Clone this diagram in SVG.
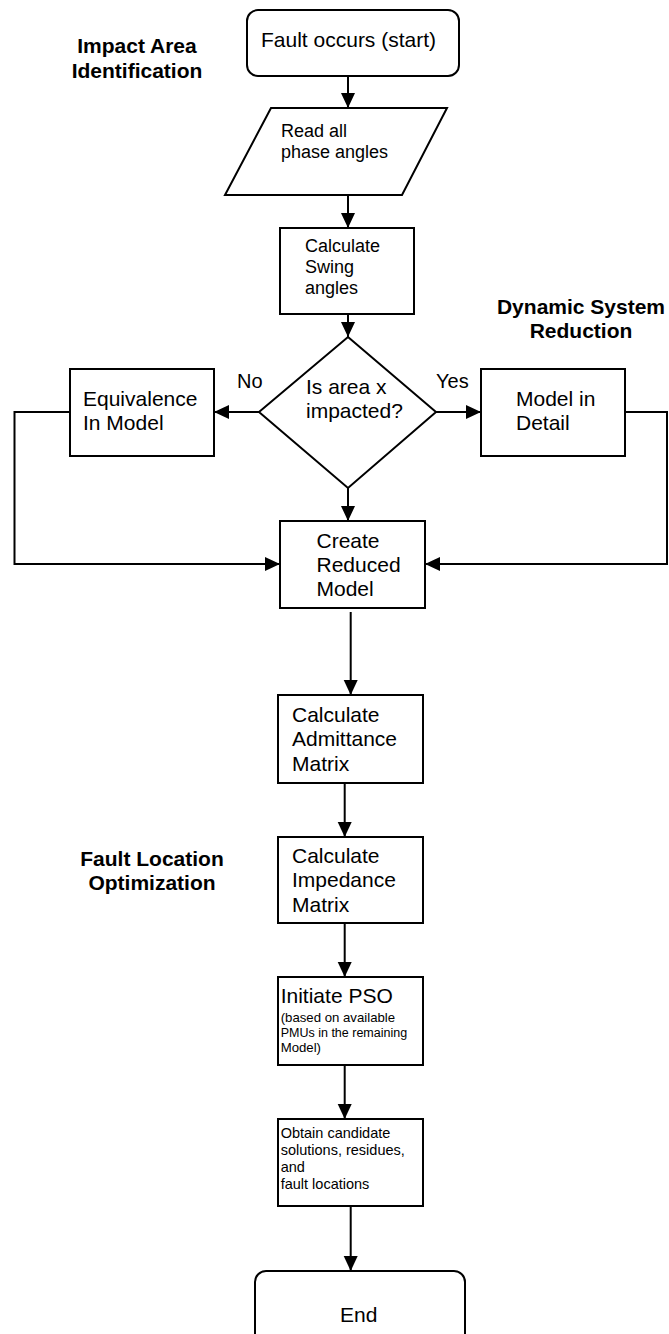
<svg xmlns="http://www.w3.org/2000/svg" width="669" height="1334" viewBox="0 0 669 1334">
<style>
.shape{fill:#fff;stroke:#000;stroke-width:2}
.ln{fill:none;stroke:#000;stroke-width:2}
.arr{marker-end:url(#ah)}
text{font-family:"Liberation Sans",Arial,sans-serif;fill:#000}
.t21{font-size:21px}
.t18{font-size:18px}
.t20{font-size:20px}
.hd{font-size:21px;font-weight:bold;text-anchor:middle}
</style>
<defs>
<marker id="ah" markerUnits="userSpaceOnUse" markerWidth="16" markerHeight="16" refX="15" refY="7" orient="auto">
<path d="M0,0 L15,7 L0,14 z" fill="#000"/>
</marker>
</defs>
<rect width="669" height="1334" fill="#fff"/>

<g id="labels">
<text class="hd" x="137" y="53">Impact Area</text>
<text class="hd" x="137" y="78">Identification</text>
<text class="hd" x="581" y="314">Dynamic System</text>
<text class="hd" x="581" y="338">Reduction</text>
<text class="hd" x="152" y="866">Fault Location</text>
<text class="hd" x="152" y="890">Optimization</text>
</g>

<g id="connectors">
<line class="ln arr" x1="348" y1="76" x2="348" y2="108"/>
<line class="ln arr" x1="348" y1="195" x2="348" y2="228"/>
<line class="ln arr" x1="348" y1="314" x2="348" y2="337"/>
<line class="ln arr" x1="259" y1="412" x2="214" y2="412"/>
<line class="ln arr" x1="436" y1="412" x2="481" y2="412"/>
<line class="ln arr" x1="348" y1="488" x2="348" y2="521"/>
<polyline class="ln arr" points="70,412 14.5,412 14.5,564 280,564"/>
<polyline class="ln arr" points="625,412 667,412 667,564 425,564"/>
<line class="ln arr" x1="350.7" y1="612" x2="350.7" y2="695"/>
<line class="ln arr" x1="344.7" y1="783" x2="344.7" y2="837"/>
<line class="ln arr" x1="344.7" y1="923" x2="344.7" y2="977"/>
<line class="ln arr" x1="344.7" y1="1065" x2="344.7" y2="1119"/>
<line class="ln arr" x1="350.7" y1="1199" x2="350.7" y2="1271"/>
<text class="t20" x="237" y="388">No</text>
<text class="t20" x="436" y="388">Yes</text>
</g>

<g id="start">
<rect class="shape" x="247" y="10" width="212" height="66" rx="11"/>
<text class="t21" x="261" y="47">Fault occurs (start)</text>
</g>

<g id="read">
<polygon class="shape" points="271,108 447,108 402,195 225,195"/>
<text class="t18" x="281" y="137">Read all</text>
<text class="t18" x="281" y="158">phase angles</text>
</g>

<g id="swing">
<rect class="shape" x="280" y="228" width="134" height="86"/>
<text class="t18" x="305" y="252">Calculate</text>
<text class="t18" x="305" y="273">Swing</text>
<text class="t18" x="305" y="294">angles</text>
</g>

<g id="decision">
<polygon class="shape" points="348,337 436,412 348,488 259,412"/>
<text class="t21" x="306" y="394">Is area x</text>
<text class="t21" x="306" y="418">impacted?</text>
</g>

<g id="equiv">
<rect class="shape" x="70" y="369" width="144" height="87"/>
<text class="t21" x="83" y="406">Equivalence</text>
<text class="t21" x="83" y="430">In Model</text>
</g>

<g id="detail">
<rect class="shape" x="481" y="369" width="144" height="87"/>
<text class="t21" x="516" y="406">Model in</text>
<text class="t21" x="516" y="430">Detail</text>
</g>

<g id="reduced">
<rect class="shape" x="280" y="521" width="145" height="87"/>
<text class="t21" x="316.5" y="548">Create</text>
<text class="t21" x="316.5" y="572">Reduced</text>
<text class="t21" x="316.5" y="596">Model</text>
</g>

<g id="admittance">
<rect class="shape" x="278" y="695" width="145" height="88"/>
<text class="t21" x="292" y="722">Calculate</text>
<text class="t21" x="292" y="746">Admittance</text>
<text class="t21" x="292" y="771">Matrix</text>
</g>

<g id="impedance">
<rect class="shape" x="278" y="837" width="145" height="86"/>
<text class="t21" x="292" y="863">Calculate</text>
<text class="t21" x="292" y="887">Impedance</text>
<text class="t21" x="292" y="912">Matrix</text>
</g>

<g id="pso">
<rect class="shape" x="278" y="977" width="145" height="88"/>
<text class="t21" x="280.7" y="1003">Initiate PSO</text>
<text x="280.7" y="1022" font-size="13.2">(based on available</text>
<text x="280.7" y="1037" font-size="12.5">PMUs in the remaining</text>
<text x="280.7" y="1052" font-size="13.2">Model)</text>
</g>

<g id="obtain">
<rect class="shape" x="278" y="1119" width="145" height="87"/>
<text x="280.7" y="1138" font-size="14.5">Obtain candidate</text>
<text x="280.7" y="1155" font-size="14.5">solutions, residues,</text>
<text x="280.7" y="1172" font-size="14.5">and</text>
<text x="280.7" y="1189" font-size="14.5">fault locations</text>
</g>

<g id="end">
<rect class="shape" x="255" y="1271" width="210" height="90" rx="11"/>
<text class="t21" x="340" y="1322">End</text>
</g>
</svg>
